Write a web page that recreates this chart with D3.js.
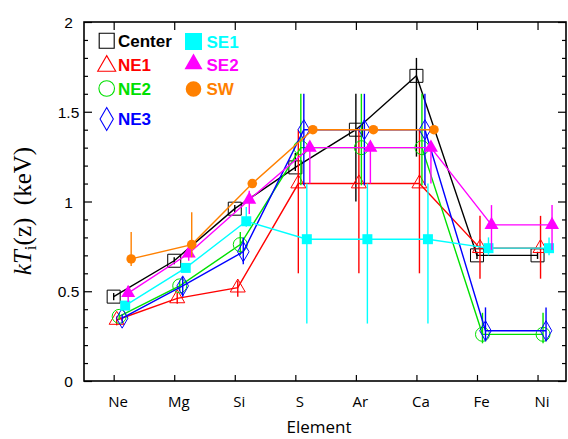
<!DOCTYPE html>
<html><head><meta charset="utf-8">
<script src="https://cdn.jsdelivr.net/npm/d3@7"></script>
<style>
html,body{margin:0;padding:0;background:#fff;}
svg{display:block;}
</style></head>
<body>
<svg id="chart" width="568" height="439"></svg>
<script>
// ---- data ----
const elements = ["Ne","Mg","Si","S","Ar","Ca","Fe","Ni"];
const yTicks = [0, 0.5, 1, 1.5, 2];
const seriesNames = ["Center","NE1","NE2","NE3","SE1","SE2","SW"];

const centerVal = [0.47,0.67,0.96,1.19,1.40,1.70,0.70,0.70];
const centerLo  = [0.45,0.65,0.94,1.17,1.00,1.25,0.68,0.68];
const centerHi  = [0.49,0.69,0.98,1.27,1.60,1.80,0.72,0.72];

const ne1Val = [0.34,0.46,0.52,1.10,1.10,1.10,0.74,0.74];
const ne1Lo  = [0.31,0.43,0.47,0.60,0.60,0.60,0.57,0.57];
const ne1Hi  = [0.36,0.49,0.56,1.40,1.40,1.40,0.92,0.92];

const ne2Val = [0.36,0.53,0.76,1.30,1.30,1.30,0.26,0.26];
const ne2Lo  = [0.34,0.50,0.70,1.09,1.09,1.09,0.21,0.21];
const ne2Hi  = [0.38,0.56,0.83,1.60,1.60,1.60,0.38,0.38];

const ne3Val = [0.35,0.53,0.72,1.40,1.40,1.40,0.28,0.28];
const ne3Lo  = [0.32,0.47,0.65,1.09,1.09,1.09,0.22,0.22];
const ne3Hi  = [0.37,0.58,0.80,1.60,1.60,1.60,0.41,0.41];

const se1Val = [0.42,0.63,0.89,0.79,0.79,0.79,0.74,0.74];
const se1Lo  = [0.40,0.61,0.86,0.32,0.32,0.32,0.70,0.70];
const se1Hi  = [0.44,0.65,0.97,1.10,1.10,1.10,0.80,0.80];

const se2Val = [0.49,0.71,1.01,1.30,1.30,1.30,0.87,0.87];
const se2Lo  = [0.44,0.67,0.93,1.10,1.10,1.10,0.73,0.73];
const se2Hi  = [0.53,0.75,1.06,1.33,1.33,1.33,0.98,0.98];

const swVal = [0.68,0.76,1.10,1.40,1.40,1.40,null,null];
const swLo  = [0.64,0.69,1.08,1.38,1.38,1.38,null,null];
const swHi  = [0.83,0.94,1.12,1.42,1.42,1.42,null,null];

// ---- styles ----
const styles = {
  Center:{color:"#000000", text:"#000000", shape:"square",  fill:false, dx:0,    ms:13,  ls:15},
  NE1:   {color:"#ff0000", text:"#ff0000", shape:"triangle",fill:false, dx:3,    ms:15,  ls:18},
  NE2:   {color:"#00e000", text:"#00e000", shape:"circle",  fill:false, dx:5.5,  ms:7,   ls:7.8},
  NE3:   {color:"#0000ff", text:"#0000ff", shape:"diamond", fill:false, dx:8.5,  ms:20,  ls:23},
  SE1:   {color:"#00ffff", text:"#00ffff", shape:"square",  fill:true,  dx:11.5, ms:10,  ls:17},
  SE2:   {color:"#ff00ff", text:"#ff00ff", shape:"triangle",fill:true,  dx:14.5, ms:14,  ls:18},
  SW:    {color:"#ff8000", text:"#ff8000", shape:"circle",  fill:true,  dx:17.5, ms:4.8, ls:7.8}
};
const seriesData = {
  Center:[centerVal,centerLo,centerHi],
  NE1:[ne1Val,ne1Lo,ne1Hi],
  NE2:[ne2Val,ne2Lo,ne2Hi],
  NE3:[ne3Val,ne3Lo,ne3Hi],
  SE1:[se1Val,se1Lo,se1Hi],
  SE2:[se2Val,se2Lo,se2Hi],
  SW:[swVal,swLo,swHi]
};

const svg = d3.select("#chart");
const L = 84, R = 566, T = 22, B = 381;
const x = d3.scaleLinear().domain([-0.49, 7.47]).range([L, R]);
const y = d3.scaleLinear().domain([0, 2]).range([B, T]);

function symPath(shape, s){
  let type, size;
  if(shape==="square"){type=d3.symbolSquare; size=s*s;}
  else if(shape==="triangle"){type=d3.symbolTriangle; size=Math.sqrt(3)/4*s*s;}
  else if(shape==="circle"){type=d3.symbolCircle; size=Math.PI*s*s;}
  else {type=d3.symbolDiamond; size=2*Math.tan(Math.PI/6)*(s/2)*(s/2);}
  return d3.symbol().type(type).size(size)();
}

// ---- axes ----
const gAx = svg.append("g");
const fmt = d => d===0?"0":d3.format("~g")(d);
// left
const left = gAx.append("g").attr("transform",`translate(${L},0)`)
  .call(d3.axisLeft(y).tickValues(yTicks).tickSize(-8).tickPadding(0).tickFormat(fmt));
left.selectAll("text").attr("text-anchor","middle").attr("x",-15.5).attr("dy","0.36em")
  .style("font-family","'Liberation Sans',Arial,sans-serif").style("font-size","15.5px").attr("fill","#000");
const minor = d3.range(0,2.001,0.1).filter(v=>Math.abs(v*2-Math.round(v*2))>1e-6);
gAx.append("g").attr("transform",`translate(${L},0)`)
  .call(d3.axisLeft(y).tickValues(minor).tickSize(-4).tickFormat(""));
// right
gAx.append("g").attr("transform",`translate(${R},0)`)
  .call(d3.axisRight(y).tickValues(yTicks).tickSize(-8).tickFormat(""));
gAx.append("g").attr("transform",`translate(${R},0)`)
  .call(d3.axisRight(y).tickValues(minor).tickSize(-4).tickFormat(""));
// bottom
const bottom = gAx.append("g").attr("transform",`translate(0,${B})`)
  .call(d3.axisBottom(x).tickValues(d3.range(elements.length)).tickSize(-6).tickFormat(i=>elements[i]));
bottom.selectAll("text").attr("y",26).attr("dy",0).attr("dx",4)
  .style("font-family","'Open Sans',sans-serif").style("font-size","15px").attr("fill","#000");
// top
gAx.append("g").attr("transform",`translate(0,${T})`)
  .call(d3.axisTop(x).tickValues(d3.range(elements.length)).tickSize(-8).tickFormat(""));
gAx.selectAll(".domain").remove();
gAx.selectAll("line").attr("stroke","#000").attr("stroke-width",1.2);
gAx.append("rect").attr("x",L).attr("y",T).attr("width",R-L).attr("height",B-T)
  .attr("fill","none").attr("stroke","#000").attr("stroke-width",1.6);

// axis titles
svg.append("text").attr("x",(L+R)/2-6).attr("y",433).attr("text-anchor","middle")
  .style("font-family","'Open Sans',sans-serif").style("font-size","17px").text("Element");

const yt = svg.append("text").attr("transform","translate(31,211) rotate(-90)")
  .attr("text-anchor","middle")
  .style("font-family","'Liberation Serif','Times New Roman',serif").style("font-size","25px");
yt.append("tspan").style("font-style","italic").text("kT");
yt.append("tspan").attr("dy",5).style("font-size","17px").text("i");
yt.append("tspan").attr("dy",-5).text("(z)\u2002(keV)");

// ---- series ----
const plot = svg.append("g");
seriesNames.forEach(name=>{
  const st = styles[name];
  const [v, lo, hi] = seriesData[name];
  const pts = elements.map((e,i)=>({i, v:v[i], lo:lo[i], hi:hi[i]})).filter(d=>d.v!=null);
  const g = plot.append("g");
  const px = d => x(d.i)+st.dx;
  g.append("path").datum(pts)
    .attr("d", d3.line().x(px).y(d=>y(d.v)))
    .attr("fill","none").attr("stroke",st.color).attr("stroke-width",1.4);
  g.selectAll("line.err").data(pts).enter().append("line")
    .attr("x1",px).attr("x2",px).attr("y1",d=>y(d.lo)).attr("y2",d=>y(d.hi))
    .attr("stroke",st.color).attr("stroke-width",1.4);
  g.selectAll("path.m").data(pts).enter().append("path")
    .attr("transform",d=>`translate(${px(d)},${y(d.v)})`)
    .attr("d",symPath(st.shape, st.ms))
    .attr("fill",st.fill?st.color:"none")
    .attr("stroke",st.color).attr("stroke-width",st.fill?0:1);
});

// ---- legend ----
const legendPos = {
  Center:[106.7,40.7,118,46.5],
  NE1:[106.7,66,118,71],
  NE2:[106.7,88.5,118,95],
  NE3:[106.7,119,118,124.5],
  SE1:[193.5,41.5,206.5,47.5],
  SE2:[193.5,64,206.5,71],
  SW:[193.5,89,206.5,95]
};
const leg = svg.append("g");
seriesNames.forEach(name=>{
  const st = styles[name], p = legendPos[name];
  leg.append("path").attr("transform",`translate(${p[0]},${p[1]})`)
    .attr("d",symPath(st.shape, st.ls))
    .attr("fill",st.fill?st.color:"none")
    .attr("stroke",st.color).attr("stroke-width",st.fill?0:1.1);
  leg.append("text").attr("x",p[2]).attr("y",p[3])
    .style("font-family","'Liberation Sans Narrow','Liberation Sans',Arial,sans-serif")
    .style("font-weight","bold").style("font-size","17px")
    .attr("fill",st.text).text(name);
});
</script>
</body></html>
